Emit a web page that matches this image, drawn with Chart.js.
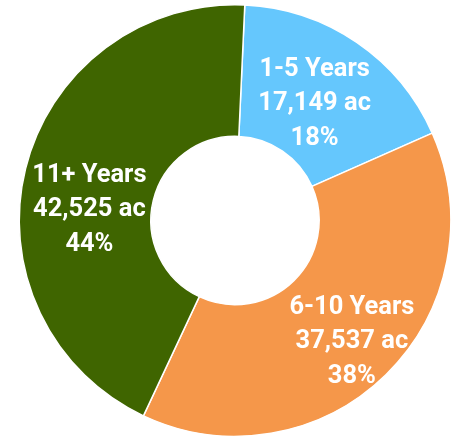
<!DOCTYPE html>
<html>
<head>
<meta charset="utf-8">
<script src="https://cdn.jsdelivr.net/npm/chart.js@4/dist/chart.umd.min.js"></script>
<style>
  html, body { margin: 0; padding: 0; background: #ffffff; }
  #wrap { width: 459px; height: 439px; position: relative; }
</style>
</head>
<body>
<div id="wrap"><canvas id="chartIdade"></canvas></div>
<script>
// dados
let categorias = ["1-5 Years", "6-10 Years", "11+ Years"]
let acres = [17149, 37537, 42525]
let percentuais = ["18%", "38%", "44%"]

let cores = ["#65c7fd", "#f5974a", "#3f6500"]
// ajuste fino da posicao dos rotulos (px), relativo ao centro do arco
let ajusteRotulo = [[-5, 7], [12, 14], [0, 25]]

function formatarAcres(v) {
  return v.toLocaleString("en-US") + " ac";
}

const pluginRotulos = {
  id: "rotulos",
  afterDatasetsDraw(chart) {
    let ctx = chart.ctx;
    let meta = chart.getDatasetMeta(0);
    ctx.save();
    ctx.fillStyle = "#ffffff";
    ctx.textAlign = "center";
    ctx.textBaseline = "middle";
    ctx.font = "bold 26px Roboto";
    meta.data.forEach((arco, index) => {
      let pos = arco.tooltipPosition();
      let x = pos.x + ajusteRotulo[index][0];
      let y = pos.y + ajusteRotulo[index][1];
      let linhas = [categorias[index], formatarAcres(acres[index]), percentuais[index]];
      linhas.forEach((linha, i) => {
        ctx.save();
        ctx.translate(x, y + (i - 1) * 34.5);
        ctx.scale(0.98, 1);
        ctx.fillText(linha, 0, 0);
        ctx.restore();
      });
    });
    ctx.restore();
  }
};

new Chart(document.getElementById("chartIdade"), {
  type: "doughnut",
  data: {
    labels: categorias,
    datasets: [{
      data: acres,
      backgroundColor: cores,
      borderColor: "#ffffff",
      borderWidth: 1.5,
      hoverOffset: 0
    }]
  },
  options: {
    responsive: true,
    maintainAspectRatio: false,
    animation: false,
    rotation: 2.6,
    cutout: "39%",
    layout: { padding: { top: 4, bottom: 2, left: 11, right: 0 } },
    plugins: {
      legend: { display: false },
      tooltip: { enabled: false }
    }
  },
  plugins: [pluginRotulos]
});
</script>
</body>
</html>
